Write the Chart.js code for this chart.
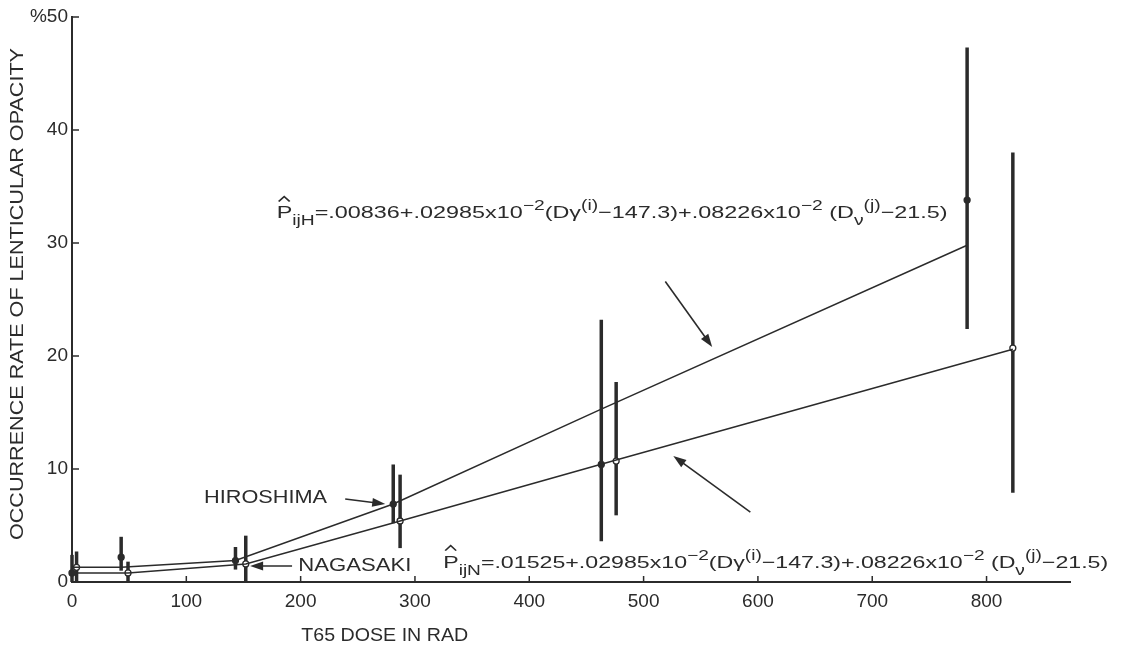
<!DOCTYPE html>
<html>
<head>
<meta charset="utf-8">
<script src="https://cdn.jsdelivr.net/npm/chart.js@4.4.0/dist/chart.umd.min.js"></script>
<style>
  html, body { margin: 0; padding: 0; background: #fff; }
</style>
</head>
<body>
<canvas id="c" width="1124" height="648"></canvas>
<script>
// Hiroshima dose groups (T65 rad), observed rate %, 95% bar, fitted line
const hiroDose = [0, 43, 143, 281, 463, 783];
const hiroRate = [0.8, 2.2, 1.9, 6.9, 10.4, 33.8];
const hiroLow  = [0, 1.0, 1.1, 5.2, 3.6, 22.4];
const hiroHigh = [2.4, 4.0, 3.1, 10.4, 23.2, 47.3];
const hiroFit  = [1.3, 1.3, 1.9, 6.9, 15.3, 29.8];

// Nagasaki
const nagaDose = [4, 49, 152, 287, 476, 823];
const nagaRate = [1.3, 0.8, 1.6, 5.4, 10.7, 20.7];
const nagaLow  = [0, 0, 0, 3.0, 5.9, 7.9];
const nagaHigh = [2.7, 1.8, 4.1, 9.5, 17.7, 38.0];
const nagaFit  = [0.8, 0.8, 1.6, 5.4, 10.8, 20.6];

const xTicks = [0, 100, 200, 300, 400, 500, 600, 700, 800];
const yTicks = [0, 10, 20, 30, 40, 50];

const INK  = "#2b2b2b";
const FONT = "'Liberation Sans', Arial, sans-serif";

const H_FORMULA = [
  ["P", "n"], ["ijH", "sub"], ["=.00836+.02985x10", "n"], ["\u22122", "sup"],
  ["(D\u03b3", "n"], ["(i)", "sup"], ["\u2212147.3)+.08226x10", "n"], ["\u22122", "sup"],
  [" (D", "n"], ["\u03bd", "sub"], ["(j)", "sup"], ["\u221221.5)", "n"],
];
const N_FORMULA = [
  ["P", "n"], ["ijN", "sub"], ["=.01525+.02985x10", "n"], ["\u22122", "sup"],
  ["(D\u03b3", "n"], ["(i)", "sup"], ["\u2212147.3)+.08226x10", "n"], ["\u22122", "sup"],
  [" (D", "n"], ["\u03bd", "sub"], ["(j)", "sup"], ["\u221221.5)", "n"],
];

const pts = (xs, ys) => xs.map((x, i) => ({ x, y: ys[i] }));

// text squeezed/stretched to a target width
function fitText(ctx, text, x, y, w, size) {
  ctx.save();
  ctx.font = `${size}px ${FONT}`;
  const nat = ctx.measureText(text).width;
  ctx.translate(x, y);
  ctx.scale(w / nat, 1);
  ctx.textAlign = "left";
  ctx.textBaseline = "middle";
  ctx.fillText(text, 0, 0);
  ctx.restore();
}

function drawRich(ctx, parts, x, yMid, w) {
  const main = 17, small = 14;
  const fontOf = t => `${t === "n" ? main : small}px ${FONT}`;
  let nat = 0;
  parts.forEach(([s, t]) => { ctx.font = fontOf(t); nat += ctx.measureText(s).width; });
  ctx.save();
  ctx.translate(x, yMid + 6);
  ctx.scale(w / nat, 1);
  ctx.textBaseline = "alphabetic";
  ctx.textAlign = "left";
  let cx = 0;
  parts.forEach(([s, t], i) => {
    ctx.font = fontOf(t);
    const dy = t === "sub" ? 7 : t === "sup" ? -8 : 0;
    ctx.fillText(s, cx, dy);
    if (i === 0) {
      // hat over P
      ctx.beginPath();
      ctx.lineWidth = 1.3;
      ctx.moveTo(cx + 1.5, -17);
      ctx.lineTo(cx + 5.5, -22);
      ctx.lineTo(cx + 9.5, -17);
      ctx.stroke();
    }
    cx += ctx.measureText(s).width;
  });
  ctx.restore();
}

function arrow(ctx, x1, y1, x2, y2) {
  const a = Math.atan2(y2 - y1, x2 - x1);
  const L = 13, W = 4.5;
  ctx.beginPath();
  ctx.lineWidth = 1.6;
  ctx.moveTo(x1, y1);
  ctx.lineTo(x2 - Math.cos(a) * L * 0.8, y2 - Math.sin(a) * L * 0.8);
  ctx.stroke();
  ctx.beginPath();
  ctx.moveTo(x2, y2);
  ctx.lineTo(x2 - Math.cos(a) * L + Math.sin(a) * W, y2 - Math.sin(a) * L - Math.cos(a) * W);
  ctx.lineTo(x2 - Math.cos(a) * L - Math.sin(a) * W, y2 - Math.sin(a) * L + Math.cos(a) * W);
  ctx.closePath();
  ctx.fill();
}

const errorBars = {
  id: "errorBars",
  beforeDatasetsDraw(chart) {
    const { ctx, scales: { x, y } } = chart;
    ctx.save();
    ctx.strokeStyle = INK;
    ctx.lineWidth = 3.5;
    [[hiroDose, hiroLow, hiroHigh], [nagaDose, nagaLow, nagaHigh]].forEach(([d, lo, hi]) => {
      d.forEach((v, i) => {
        const px = x.getPixelForValue(v);
        ctx.beginPath();
        ctx.moveTo(px, y.getPixelForValue(lo[i]));
        ctx.lineTo(px, y.getPixelForValue(hi[i]));
        ctx.stroke();
      });
    });
    ctx.restore();
  },
};

const decor = {
  id: "decor",
  afterDraw(chart) {
    const { ctx, scales: { x, y }, chartArea: area } = chart;
    const X = v => x.getPixelForValue(v);
    const Y = v => y.getPixelForValue(v);
    ctx.save();
    ctx.strokeStyle = INK;
    ctx.fillStyle = INK;

    // inward tick marks
    ctx.lineWidth = 1.5;
    xTicks.slice(1).forEach(v => {
      ctx.beginPath(); ctx.moveTo(X(v), area.bottom); ctx.lineTo(X(v), area.bottom - 6); ctx.stroke();
    });
    yTicks.slice(1).forEach(v => {
      ctx.beginPath(); ctx.moveTo(area.left, Y(v)); ctx.lineTo(area.left + 7, Y(v)); ctx.stroke();
    });

    // axis titles
    fitText(ctx, "T65 DOSE IN RAD", X(200.5), area.bottom + 54, 167, 18);
    ctx.save();
    ctx.translate(18, 294);
    ctx.rotate(-Math.PI / 2);
    fitText(ctx, "OCCURRENCE RATE OF LENTICULAR OPACITY", -246, 0, 492, 19);
    ctx.restore();

    // city labels
    fitText(ctx, "HIROSHIMA", X(115.5), Y(7.45), 123, 18);
    arrow(ctx, X(239), Y(7.35), X(274), Y(6.9));
    fitText(ctx, "NAGASAKI", X(198), Y(1.42), 113, 18);
    arrow(ctx, X(192.5), Y(1.42), X(155.8), Y(1.42));

    // regression formulas
    drawRich(ctx, H_FORMULA, X(179), Y(32.7), 671);
    arrow(ctx, X(519), Y(26.6), X(560), Y(20.8));
    drawRich(ctx, N_FORMULA, X(324.7), Y(1.8), 665);
    arrow(ctx, X(593.4), Y(6.19), X(526), Y(11.15));
    ctx.restore();
  },
};

new Chart(document.getElementById("c"), {
  type: "line",
  data: {
    datasets: [
      {
        label: "Hiroshima fit",
        data: pts(hiroDose, hiroFit),
        borderColor: INK, borderWidth: 1.5, pointRadius: 0, tension: 0, clip: false,
      },
      {
        label: "Nagasaki fit",
        data: pts(nagaDose, nagaFit),
        borderColor: INK, borderWidth: 1.5, pointRadius: 0, tension: 0, clip: false,
      },
      {
        label: "Hiroshima",
        data: pts(hiroDose, hiroRate),
        showLine: false, pointRadius: 3, pointBorderWidth: 1.3,
        pointBackgroundColor: INK, pointBorderColor: INK, clip: false,
      },
      {
        label: "Nagasaki",
        data: pts(nagaDose, nagaRate),
        showLine: false, pointRadius: 3, pointBorderWidth: 1.3,
        pointBackgroundColor: "#fff", pointBorderColor: INK, clip: false,
      },
    ],
  },
  options: {
    responsive: false,
    animation: false,
    layout: { padding: { top: 17, right: 54, left: 0, bottom: 0 } },
    plugins: { legend: { display: false }, tooltip: { enabled: false } },
    scales: {
      x: {
        type: "linear",
        min: 0,
        max: 873,
        afterFit: s => { s.height = 66; },
        afterBuildTicks: s => { s.ticks = xTicks.map(v => ({ value: v })); },
        grid: { display: false, drawTicks: false },
        border: { display: true, color: INK, width: 2 },
        ticks: { color: INK, font: { family: FONT, size: 19 }, padding: 8, maxRotation: 0 },
      },
      y: {
        min: 0,
        max: 50,
        afterFit: s => { s.width = 72; },
        afterBuildTicks: s => { s.ticks = yTicks.map(v => ({ value: v })); },
        grid: { display: false, drawTicks: false },
        border: { display: true, color: INK, width: 2 },
        ticks: {
          color: INK, font: { family: FONT, size: 19 }, padding: 4,
          callback: v => (v === 50 ? "%50" : v),
        },
      },
    },
  },
  plugins: [errorBars, decor],
});
</script>
</body>
</html>
